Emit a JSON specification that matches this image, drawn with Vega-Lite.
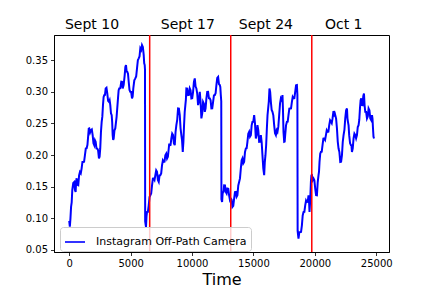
{
"$schema": "https://vega.github.io/schema/vega-lite/v6.json",
"width": 335, "height": 217,
"autosize": {"type": "none"},
"padding": {"left": 54, "top": 35, "right": 43, "bottom": 36},
"background": "white",
"config": {
  "font": "DejaVu Sans",
  "view": {"stroke": "black", "strokeWidth": 1},
  "axis": {"grid": false, "labelOverlap": false, "domainColor": "black", "domainWidth": 1, "tickColor": "black", "tickSize": 3.5, "tickWidth": 0.8, "labelFontSize": 10, "labelColor": "black", "labelPadding": 3, "labelFont": "DejaVu Sans", "titleFont": "DejaVu Sans", "titleColor": "black", "titleFontWeight": "normal"}
},
"datasets": {
"series": [
{"t":0,"v":0.096},{"t":50,"v":0.087},{"t":100,"v":0.100},{"t":150,"v":0.118},{"t":200,"v":0.125},{"t":250,"v":0.145},
{"t":329,"v":0.156},{"t":408,"v":0.1575},{"t":465,"v":0.1446},{"t":522,"v":0.1417},{"t":562,"v":0.1575},{"t":603,"v":0.1633},{"t":668,"v":0.1528},{"t":734,"v":0.1522},{"t":803,"v":0.1678},{"t":872,"v":0.1733},{"t":941,"v":0.1712},{"t":1011,"v":0.179},{"t":1076,"v":0.189},{"t":1141,"v":0.189},{"t":1210,"v":0.1894},{"t":1280,"v":0.1997},{"t":1349,"v":0.2103},{"t":1419,"v":0.2108},{"t":1484,"v":0.2161},{"t":1549,"v":0.2314},{"t":1590,"v":0.2417},{"t":1631,"v":0.242},{"t":1700,"v":0.2357},{"t":1769,"v":0.2393},{"t":1838,"v":0.2404},{"t":1908,"v":0.2314},{"t":1973,"v":0.2185},{"t":2038,"v":0.2155},{"t":2095,"v":0.2232},{"t":2152,"v":0.2208},{"t":2217,"v":0.2106},{"t":2283,"v":0.2103},{"t":2352,"v":0.2074},{"t":2421,"v":0.1945},{"t":2474,"v":0.1977},{"t":2527,"v":0.2108},{"t":2584,"v":0.2366},{"t":2642,"v":0.2524},{"t":2695,"v":0.2606},{"t":2748,"v":0.2788},{"t":2801,"v":0.2917},{"t":2854,"v":0.2946},{"t":2911,"v":0.2949},{"t":2968,"v":0.3052},{"t":3033,"v":0.3063},{"t":3098,"v":0.2973},{"t":3167,"v":0.2857},{"t":3237,"v":0.284},{"t":3290,"v":0.2864},{"t":3343,"v":0.2788},{"t":3400,"v":0.2659},{"t":3457,"v":0.263},{"t":3497,"v":0.2522},{"t":3538,"v":0.2314},{"t":3579,"v":0.2238},{"t":3620,"v":0.2261},{"t":3685,"v":0.2391},{"t":3750,"v":0.242},{"t":3860,"v":0.2607},{"t":3971,"v":0.2894},{"t":4024,"v":0.3023},{"t":4077,"v":0.3052},{"t":4158,"v":0.3055},{"t":4240,"v":0.3157},{"t":4297,"v":0.3155},{"t":4354,"v":0.3052},{"t":4435,"v":0.3108},{"t":4517,"v":0.3263},{"t":4570,"v":0.3392},{"t":4623,"v":0.3421},{"t":4676,"v":0.3318},{"t":4729,"v":0.3315},{"t":4786,"v":0.3286},{"t":4843,"v":0.3157},{"t":4908,"v":0.3028},{"t":4973,"v":0.2999},{"t":5042,"v":0.2997},{"t":5112,"v":0.2894},{"t":5165,"v":0.2923},{"t":5218,"v":0.3052},{"t":5300,"v":0.3181},{"t":5381,"v":0.321},{"t":5450,"v":0.324},{"t":5520,"v":0.3369},{"t":5589,"v":0.3498},{"t":5658,"v":0.3527},{"t":5723,"v":0.3556},{"t":5789,"v":0.3685},{"t":5858,"v":0.366},{"t":5927,"v":0.3737},{"t":5996,"v":0.3708},{"t":6066,"v":0.3579},{"t":6106,"v":0.345},{"t":6147,"v":0.3421},{"t":6170,"v":0.335},{"t":6185,"v":0.095},
{"t":6253,"v":0.0863},{"t":6294,"v":0.1032},{"t":6335,"v":0.11},{"t":6404,"v":0.1103},{"t":6474,"v":0.1206},{"t":6539,"v":0.1335},{"t":6604,"v":0.1364},{"t":6673,"v":0.1393},{"t":6743,"v":0.1522},{"t":6812,"v":0.1626},{"t":6881,"v":0.1629},{"t":6946,"v":0.1605},{"t":7012,"v":0.1681},{"t":7081,"v":0.1757},{"t":7150,"v":0.1733},{"t":7219,"v":0.1604},{"t":7289,"v":0.1575},{"t":7354,"v":0.1678},{"t":7419,"v":0.1681},{"t":7488,"v":0.171},{"t":7558,"v":0.1839},{"t":7627,"v":0.1915},{"t":7696,"v":0.1891},{"t":7761,"v":0.1894},{"t":7827,"v":0.1997},{"t":7896,"v":0.2021},{"t":7965,"v":0.1945},{"t":8034,"v":0.1974},{"t":8104,"v":0.2103},{"t":8145,"v":0.2179},{"t":8186,"v":0.2155},{"t":8251,"v":0.2158},{"t":8316,"v":0.2261},{"t":8385,"v":0.2338},{"t":8455,"v":0.2314},{"t":8524,"v":0.2185},{"t":8593,"v":0.2155},{"t":8658,"v":0.2364},{"t":8724,"v":0.2472},{"t":8793,"v":0.2554},{"t":8862,"v":0.2736},{"t":8931,"v":0.2733},{"t":9001,"v":0.263},{"t":9066,"v":0.2422},{"t":9131,"v":0.2314},{"t":9188,"v":0.2232},{"t":9245,"v":0.2049},{"t":9298,"v":0.2211},{"t":9351,"v":0.2472},{"t":9404,"v":0.268},{"t":9457,"v":0.2788},{"t":9498,"v":0.287},{"t":9539,"v":0.3052},{"t":9608,"v":0.3049},{"t":9678,"v":0.2946},{"t":9747,"v":0.2949},{"t":9816,"v":0.3052},{"t":9881,"v":0.3023},{"t":9947,"v":0.2894},{"t":10016,"v":0.2897},{"t":10085,"v":0.2999},{"t":10154,"v":0.3155},{"t":10224,"v":0.321},{"t":10289,"v":0.3081},{"t":10354,"v":0.3052},{"t":10423,"v":0.297},{"t":10493,"v":0.2788},{"t":10562,"v":0.2844},{"t":10631,"v":0.2999},{"t":10696,"v":0.2839},{"t":10762,"v":0.2578},{"t":10831,"v":0.2659},{"t":10900,"v":0.284},{"t":10969,"v":0.2811},{"t":11039,"v":0.2682},{"t":11104,"v":0.2738},{"t":11170,"v":0.2894},{"t":11239,"v":0.2997},{"t":11308,"v":0.2999},{"t":11377,"v":0.2897},{"t":11447,"v":0.2894},{"t":11512,"v":0.2865},{"t":11577,"v":0.2736},{"t":11646,"v":0.2738},{"t":11716,"v":0.284},{"t":11785,"v":0.2943},{"t":11854,"v":0.2946},{"t":11919,"v":0.2976},{"t":11985,"v":0.3105},{"t":12054,"v":0.322},{"t":12124,"v":0.3236},{"t":12193,"v":0.3121},{"t":12262,"v":0.3105},{"t":12303,"v":0.3076},{"t":12344,"v":0.2946},{"t":12380,"v":0.285},{"t":12395,"v":0.13},
{"t":12450,"v":0.1258},{"t":12490,"v":0.1388},{"t":12531,"v":0.1417},{"t":12572,"v":0.142},{"t":12613,"v":0.1522},{"t":12682,"v":0.152},{"t":12751,"v":0.1417},{"t":12816,"v":0.1394},{"t":12882,"v":0.147},{"t":12951,"v":0.1467},{"t":13020,"v":0.1364},{"t":13089,"v":0.1288},{"t":13159,"v":0.1312},{"t":13224,"v":0.1296},{"t":13289,"v":0.1179},{"t":13358,"v":0.1196},{"t":13428,"v":0.1312},{"t":13497,"v":0.1415},{"t":13567,"v":0.1417},{"t":13632,"v":0.1341},{"t":13697,"v":0.1364},{"t":13766,"v":0.152},{"t":13836,"v":0.1575},{"t":13905,"v":0.1631},{"t":13974,"v":0.1787},{"t":14039,"v":0.1916},{"t":14105,"v":0.1945},{"t":14174,"v":0.1868},{"t":14243,"v":0.1891},{"t":14312,"v":0.2047},{"t":14382,"v":0.2103},{"t":14447,"v":0.2106},{"t":14512,"v":0.2208},{"t":14581,"v":0.2337},{"t":14651,"v":0.2366},{"t":14720,"v":0.229},{"t":14790,"v":0.2314},{"t":14855,"v":0.2469},{"t":14920,"v":0.2524},{"t":14989,"v":0.2527},{"t":15059,"v":0.263},{"t":15128,"v":0.2496},{"t":15197,"v":0.2261},{"t":15262,"v":0.2317},{"t":15328,"v":0.2472},{"t":15397,"v":0.239},{"t":15466,"v":0.2208},{"t":15535,"v":0.2211},{"t":15605,"v":0.2314},{"t":15670,"v":0.2206},{"t":15735,"v":0.1997},{"t":15804,"v":0.1789},{"t":15874,"v":0.1681},{"t":15927,"v":0.1889},{"t":15980,"v":0.1997},{"t":16037,"v":0.2159},{"t":16094,"v":0.242},{"t":16147,"v":0.2628},{"t":16200,"v":0.2736},{"t":16253,"v":0.2844},{"t":16306,"v":0.3052},{"t":16363,"v":0.2996},{"t":16420,"v":0.284},{"t":16485,"v":0.2711},{"t":16551,"v":0.2682},{"t":16620,"v":0.2627},{"t":16689,"v":0.2472},{"t":16758,"v":0.2343},{"t":16828,"v":0.2314},{"t":16893,"v":0.239},{"t":16958,"v":0.2366},{"t":17027,"v":0.2448},{"t":17097,"v":0.263},{"t":17166,"v":0.2812},{"t":17235,"v":0.2894},{"t":17300,"v":0.287},{"t":17366,"v":0.2946},{"t":17407,"v":0.2706},{"t":17448,"v":0.2366},{"t":17505,"v":0.2208},{"t":17545,"v":0.2211},{"t":17586,"v":0.2314},{"t":17655,"v":0.2469},{"t":17725,"v":0.2524},{"t":17790,"v":0.2527},{"t":17855,"v":0.263},{"t":17924,"v":0.2733},{"t":17994,"v":0.2736},{"t":18063,"v":0.2738},{"t":18132,"v":0.284},{"t":18197,"v":0.2917},{"t":18263,"v":0.2894},{"t":18332,"v":0.2897},{"t":18401,"v":0.2999},{"t":18470,"v":0.3102},{"t":18540,"v":0.3105},{"t":18580,"v":0.295},{"t":18600,"v":0.08},
{"t":18670,"v":0.0679},{"t":18739,"v":0.0782},{"t":18809,"v":0.0784},{"t":18878,"v":0.0787},{"t":18947,"v":0.089},{"t":19012,"v":0.1045},{"t":19078,"v":0.11},{"t":19147,"v":0.1103},{"t":19217,"v":0.1206},{"t":19286,"v":0.1282},{"t":19355,"v":0.1258},{"t":19420,"v":0.1261},{"t":19486,"v":0.1364},{"t":19526,"v":0.1282},{"t":19567,"v":0.11},{"t":19624,"v":0.1288},{"t":19681,"v":0.1575},{"t":19722,"v":0.1678},{"t":19763,"v":0.1681},{"t":19828,"v":0.1605},{"t":19893,"v":0.1629},{"t":19962,"v":0.16},{"t":20032,"v":0.147},{"t":20101,"v":0.1367},{"t":20171,"v":0.1364},{"t":20236,"v":0.1573},{"t":20301,"v":0.1681},{"t":20341,"v":0.1736},{"t":20382,"v":0.1891},{"t":20439,"v":0.202},{"t":20497,"v":0.2049},{"t":20562,"v":0.2052},{"t":20627,"v":0.2155},{"t":20696,"v":0.2258},{"t":20766,"v":0.2261},{"t":20835,"v":0.2238},{"t":20904,"v":0.2314},{"t":20969,"v":0.239},{"t":21035,"v":0.2366},{"t":21104,"v":0.2369},{"t":21173,"v":0.2472},{"t":21242,"v":0.2548},{"t":21312,"v":0.2524},{"t":21377,"v":0.2501},{"t":21442,"v":0.2578},{"t":21511,"v":0.268},{"t":21581,"v":0.2682},{"t":21622,"v":0.2606},{"t":21663,"v":0.263},{"t":21732,"v":0.2575},{"t":21801,"v":0.242},{"t":21866,"v":0.2212},{"t":21932,"v":0.2103},{"t":22001,"v":0.2047},{"t":22071,"v":0.1891},{"t":22140,"v":0.1894},{"t":22209,"v":0.1997},{"t":22274,"v":0.2206},{"t":22340,"v":0.2314},{"t":22409,"v":0.2396},{"t":22478,"v":0.2578},{"t":22547,"v":0.2707},{"t":22617,"v":0.2736},{"t":22657,"v":0.258},{"t":22698,"v":0.2524},{"t":22748,"v":0.2469},{"t":22798,"v":0.2314},{"t":22870,"v":0.2185},{"t":22942,"v":0.2155},{"t":22982,"v":0.2152},{"t":23023,"v":0.2049},{"t":23088,"v":0.2105},{"t":23154,"v":0.2261},{"t":23223,"v":0.2338},{"t":23293,"v":0.2314},{"t":23362,"v":0.2264},{"t":23431,"v":0.2314},{"t":23496,"v":0.2443},{"t":23562,"v":0.2472},{"t":23619,"v":0.2554},{"t":23676,"v":0.2736},{"t":23729,"v":0.2865},{"t":23782,"v":0.2894},{"t":23835,"v":0.2791},{"t":23888,"v":0.2788},{"t":23945,"v":0.2931},{"t":24002,"v":0.2973},{"t":24055,"v":0.2778},{"t":24108,"v":0.2682},{"t":24177,"v":0.268},{"t":24247,"v":0.2578},{"t":24312,"v":0.2607},{"t":24377,"v":0.2736},{"t":24446,"v":0.2707},{"t":24516,"v":0.2578},{"t":24585,"v":0.2554},{"t":24655,"v":0.263},{"t":24696,"v":0.2575},{"t":24737,"v":0.242},{"t":24777,"v":0.2291},{"t":24818,"v":0.2261}
],
"weeks": [{"t":6552},{"t":13152},{"t":19752}],
"labels": [
{"t":-351,"v":0.3986,"label":"Sept 10"},
{"t":7452,"v":0.3986,"label":"Sept 17"},
{"t":13811,"v":0.3986,"label":"Sept 24"},
{"t":20823,"v":0.3986,"label":"Oct 1"}
]
},
"layer": [
{
 "data": {"name": "series"},
 "mark": {"type": "line", "strokeWidth": 2, "clip": true},
 "encoding": {
  "x": {"field": "t", "type": "quantitative", "scale": {"domain": [-1240, 26040], "nice": false, "zero": false},
        "axis": {"title": "Time", "titleFontSize": 16, "titlePadding": 3, "tickCount": 6, "format": "d", "labelOverlap": false}},
  "y": {"field": "v", "type": "quantitative", "scale": {"domain": [0.0468, 0.3896], "nice": false, "zero": false},
        "axis": {"title": null, "tickCount": 7, "format": ".2f", "labelOverlap": false, "labelFlush": false}},
  "color": {"datum": "Instagram Off-Path Camera", "type": "nominal", "scale": {"range": ["#0000ff"]},
        "legend": {"title": null, "orient": "none", "legendX": 6, "legendY": 192, "symbolType": "stroke", "symbolSize": 400, "symbolStrokeWidth": 1.6, "labelFontSize": 11, "labelFont": "DejaVu Sans", "labelColor": "black", "labelOffset": 10, "padding": 4, "fillColor": "rgba(255,255,255,0.8)", "strokeColor": "#cccccc", "cornerRadius": 3}}
 }
},
{
 "data": {"name": "weeks"},
 "mark": {"type": "rule", "color": "#ff0000", "strokeWidth": 1.5},
 "encoding": {"x": {"field": "t", "type": "quantitative"}}
},
{
 "data": {"name": "labels"},
 "mark": {"type": "text", "align": "left", "baseline": "alphabetic", "fontSize": 14, "font": "DejaVu Sans", "color": "black"},
 "encoding": {
  "x": {"field": "t", "type": "quantitative"},
  "y": {"field": "v", "type": "quantitative"},
  "text": {"field": "label"}
 }
}
]
}
